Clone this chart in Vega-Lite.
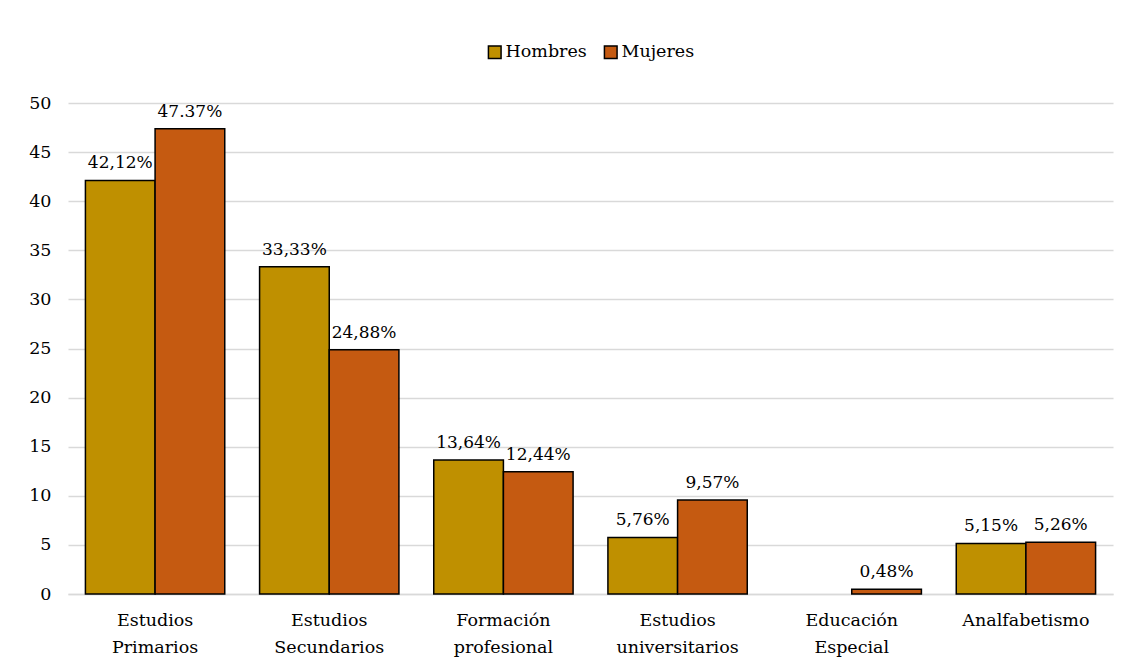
{
  "$schema": "https://vega.github.io/schema/vega-lite/v6.json",
  "width": 1127,
  "height": 670,
  "autosize": {"type": "fit", "contains": "padding"},
  "padding": {"left": 28, "right": 14, "top": 43, "bottom": 14},
  "background": "white",
  "config": {
    "font": "DejaVu Serif",
    "view": {"stroke": null},
    "axis": {"labelFont": "DejaVu Serif", "labelFontSize": 17.5, "labelColor": "#000000"},
    "legend": {
      "labelFont": "DejaVu Serif",
      "labelFontSize": 17.5,
      "labelColor": "#000000",
      "layout": {"top": {"anchor": "middle"}}
    }
  },
  "data": {
    "values": [
      {"nivel": "Estudios Primarios", "sexo": "Hombres", "valor": 42.12, "etiqueta": "42,12%"},
      {"nivel": "Estudios Primarios", "sexo": "Mujeres", "valor": 47.37, "etiqueta": "47.37%"},
      {"nivel": "Estudios Secundarios", "sexo": "Hombres", "valor": 33.33, "etiqueta": "33,33%"},
      {"nivel": "Estudios Secundarios", "sexo": "Mujeres", "valor": 24.88, "etiqueta": "24,88%"},
      {"nivel": "Formación profesional", "sexo": "Hombres", "valor": 13.64, "etiqueta": "13,64%"},
      {"nivel": "Formación profesional", "sexo": "Mujeres", "valor": 12.44, "etiqueta": "12,44%"},
      {"nivel": "Estudios universitarios", "sexo": "Hombres", "valor": 5.76, "etiqueta": "5,76%"},
      {"nivel": "Estudios universitarios", "sexo": "Mujeres", "valor": 9.57, "etiqueta": "9,57%"},
      {"nivel": "Educación Especial", "sexo": "Mujeres", "valor": 0.48, "etiqueta": "0,48%"},
      {"nivel": "Analfabetismo", "sexo": "Hombres", "valor": 5.15, "etiqueta": "5,15%"},
      {"nivel": "Analfabetismo", "sexo": "Mujeres", "valor": 5.26, "etiqueta": "5,26%"}
    ]
  },
  "encoding": {
    "x": {
      "field": "nivel",
      "type": "nominal",
      "sort": null,
      "scale": {
        "domain": ["Estudios Primarios", "Estudios Secundarios", "Formación profesional", "Estudios universitarios", "Educación Especial", "Analfabetismo"],
        "paddingInner": 0.2,
        "paddingOuter": 0.1
      },
      "axis": {
        "title": null,
        "labelAngle": 0,
        "labelExpr": "split(datum.label, ' ')",
        "labelLineHeight": 27,
        "labelPadding": 17,
        "ticks": false,
        "domainColor": "#d9d9d9",
        "domainWidth": 1.5
      }
    }
  },
  "layer": [
    {
      "mark": {"type": "bar", "stroke": "#000000", "strokeWidth": 1.5},
      "encoding": {
        "xOffset": {"field": "sexo", "type": "nominal", "scale": {"domain": ["Hombres", "Mujeres"], "paddingInner": 0, "paddingOuter": 0}},
        "y": {
          "field": "valor",
          "type": "quantitative",
          "scale": {"domain": [0, 50]},
          "axis": {
            "title": null,
            "values": [0, 5, 10, 15, 20, 25, 30, 35, 40, 45, 50],
            "ticks": false,
            "domain": false,
            "gridColor": "#d9d9d9",
            "gridWidth": 1.5,
            "labelPadding": 17
          }
        },
        "color": {
          "field": "sexo",
          "type": "nominal",
          "scale": {"domain": ["Hombres", "Mujeres"], "range": ["#bf9000", "#c55a11"]},
          "legend": {
            "title": null,
            "orient": "top",
            "direction": "horizontal",
            "symbolType": "square",
            "symbolSize": 160,
            "symbolStrokeColor": "#000000",
            "symbolStrokeWidth": 1.5,
            "labelOffset": 2,
            "columnPadding": 14,
            "offset": 41
          }
        }
      }
    },
    {
      "mark": {"type": "text", "baseline": "bottom", "dy": -8, "fontSize": 17, "font": "DejaVu Serif", "color": "#000000"},
      "encoding": {
        "xOffset": {"field": "sexo", "type": "nominal", "scale": {"domain": ["Hombres", "Mujeres"], "paddingInner": 0, "paddingOuter": 0}},
        "y": {"field": "valor", "type": "quantitative"},
        "text": {"field": "etiqueta"}
      }
    }
  ]
}
